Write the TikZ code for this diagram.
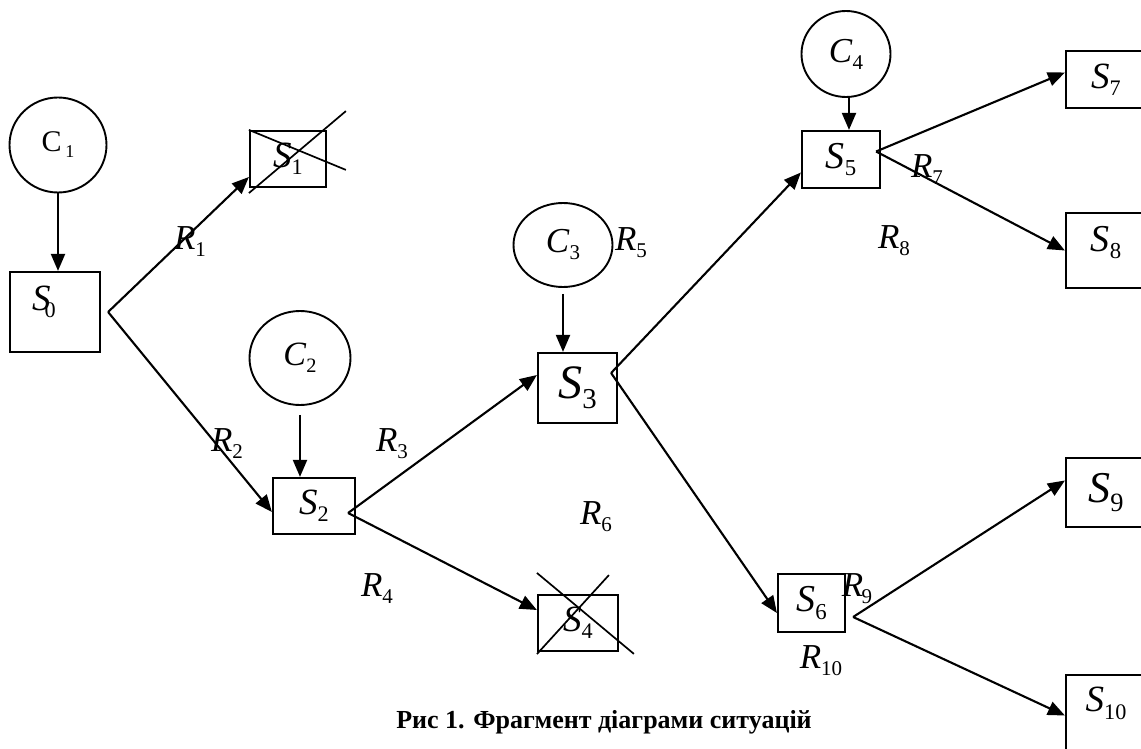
\documentclass[tikz,border=0pt]{standalone}
\usepackage{fontspec}
\setmainfont{Liberation Serif}
\usetikzlibrary{arrows.meta,shapes.geometric}
\newcommand{\sname}[4][0em]{{\fontsize{#2}{#2}\selectfont\textit{#3}\kern#1\raisebox{-.2em}{\fontsize{\fpeval{.6*#2}}{\fpeval{.6*#2}}\selectfont #4}}}

\begin{document}
\begin{tikzpicture}[x=1pt,y=-1pt,
  state/.style={draw,line width=2.2pt,inner sep=0pt},
  cond/.style={draw,ellipse,line width=1.9pt,inner sep=0pt},
  rlab/.style={inner sep=0pt},
  arr/.style={-{Triangle[length=17pt,width=14pt]},line width=2.1pt},
  cross/.style={line width=1.7pt}]
  \useasboundingbox (0,0) rectangle (1141,749);
  \clip (0,0) rectangle (1141,749);

  \node[state,minimum width=90pt,minimum height=80pt] (S0) at (55,312)
    {\kern-11pt\raisebox{10pt}[\height][\depth]{\sname[-.16em]{37}{S}{0}}\kern11pt};
  \node[state,minimum width=76pt,minimum height=56pt] (S1) at (288,159) {\sname{37}{S}{1}};
  \node[state,minimum width=82pt,minimum height=56pt] (S2) at (314,506) {\sname{37}{S}{2}};
  \node[state,minimum width=79pt,minimum height=70pt] (S3) at (577.5,388) {\sname{48}{S}{3}};
  \node[state,minimum width=80pt,minimum height=56pt] (S4) at (578,623) {\sname{37}{S}{4}};
  \node[state,minimum width=78pt,minimum height=57pt] (S5) at (841,159.5) {\sname{38}{S}{5}};
  \node[state,minimum width=67pt,minimum height=58pt] (S6) at (811.5,603) {\sname{38}{S}{6}};
  \node[state,minimum width=80pt,minimum height=57pt] (S7) at (1106,79.5) {\sname{37}{S}{7}};
  \node[state,minimum width=80pt,minimum height=75pt] (S8) at (1106,250.5)
    {\raisebox{8pt}[\height][\depth]{\sname{38}{S}{8}}};
  \node[state,minimum width=80pt,minimum height=69pt] (S9) at (1106,492.5) {\sname{44}{S}{9}};
  \node[state,minimum width=80pt,minimum height=85pt] (S10) at (1106,717.5)
    {\raisebox{14pt}[\height][\depth]{\sname{37}{S}{10}}};

  \node[cond,minimum width=97pt,minimum height=95pt] (C1) at (58,145) {\sname[.12em]{30}{\textup{C}}{1}};
  \node[cond,minimum width=101pt,minimum height=94pt] (C2) at (300,358) {\sname{34}{C}{2}};
  \node[cond,minimum width=99pt,minimum height=84pt] (C3) at (563,245) {\sname{35}{C}{3}};
  \node[cond,minimum width=89pt,minimum height=86pt] (C4) at (846,54) {\sname{35}{C}{4}};

  \draw[arr] (C1) -- (C1 |- S0.north);
  \draw[arr] ([yshift=-9pt]C2.south) -- (C2.south |- S2.north);
  \draw[arr] ([yshift=-6pt]C3.south) -- (C3.south |- S3.north);
  \draw[arr] ([xshift=3pt]C4.south) -- ([xshift=3pt]C4.south |- S5.north);

  \coordinate (b0) at ([xshift=7pt]S0.east);
  \coordinate (b2) at ([xshift=-8pt,yshift=-7pt]S2.east);
  \coordinate (b3) at ([xshift=-7pt,yshift=15pt]S3.east);
  \coordinate (b5) at ([xshift=-5pt,yshift=8pt]S5.east);
  \coordinate (b6) at ([xshift=7pt,yshift=-14pt]S6.east);

  \draw[arr] (b0) -- ([yshift=-18pt]S1.west);
  \draw[arr] (b0) -- ([yshift=-6pt]S2.west);
  \draw[arr] (b2) -- ([yshift=13pt]S3.west);
  \draw[arr] (b2) -- ([yshift=13pt]S4.west);
  \draw[arr] (b3) -- ([yshift=-13pt]S5.west);
  \draw[arr] (b3) -- ([yshift=-10pt]S6.west);
  \draw[arr] (b5) -- ([yshift=7pt]S7.west);
  \draw[arr] (b5) -- (S8.west);
  \draw[arr] (b6) -- ([yshift=12pt]S9.west);
  \draw[arr] (b6) -- ([yshift=2pt]S10.west);

  \draw[cross] (S1.north west) -- ++(97,40);
  \draw[cross] ([yshift=-5pt]S1.south west) -- ++(97,-82);
  \draw[cross] ([yshift=21pt]S4.north west) -- ++(97,81);
  \draw[cross] ([yshift=-2pt]S4.south west) -- ++(72,-79);

  \node[rlab] (R1) at (190,242) {\sname{35}{R}{1}};
  \node[rlab] (R2) at (227,444) {\sname{35}{R}{2}};
  \node[rlab] (R3) at (392,444) {\sname{35}{R}{3}};
  \node[rlab] (R4) at (377,589) {\sname{35}{R}{4}};
  \node[rlab] (R5) at (631,243) {\sname{35}{R}{5}};
  \node[rlab] (R6) at (596,517) {\sname{35}{R}{6}};
  \node[rlab] (R7) at (927,170) {\sname{35}{R}{7}};
  \node[rlab] (R8) at (894,241) {\sname{35}{R}{8}};
  \node[rlab] (R9) at (857,589) {\sname[-.05em]{35}{R}{9}};
  \node[rlab] (R10) at (821,661) {\sname{35}{R}{10}};

  \node[font=\bfseries\fontsize{26}{26}\selectfont] (caption) at (604,722)
    {Рис 1. Фрагмент діаграми ситуацій};
\end{tikzpicture}
\end{document}
